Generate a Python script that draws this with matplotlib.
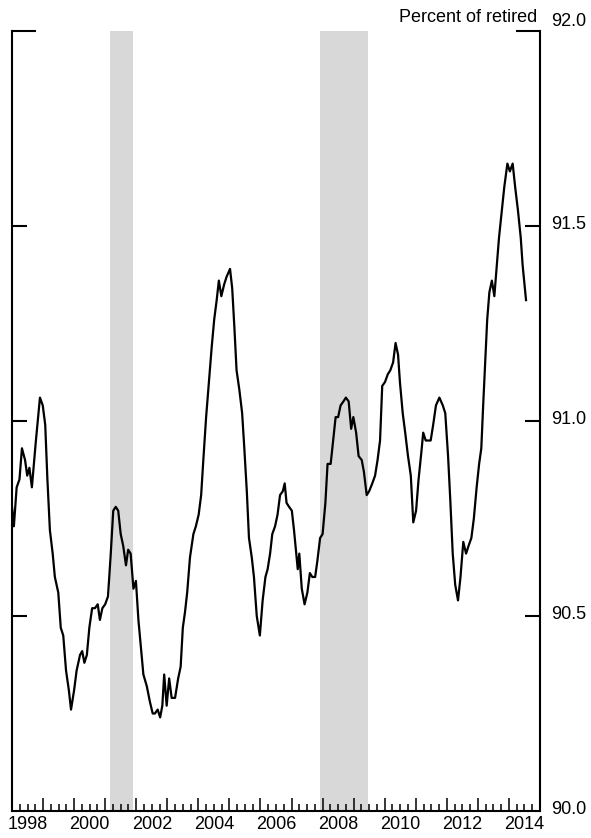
import matplotlib
matplotlib.use("Agg")
import matplotlib.pyplot as plt
from matplotlib.ticker import MultipleLocator
import numpy as np

plt.rcParams['font.family'] = ['Liberation Sans', 'DejaVu Sans']

# decimal year, percent of retired
years = [
    1998.00, 1998.06, 1998.15, 1998.24, 1998.32, 1998.42, 1998.49, 1998.56, 1998.64, 1998.77,
    1998.90, 1998.99, 1999.07, 1999.14, 1999.22, 1999.31, 1999.38, 1999.49, 1999.57, 1999.65,
    1999.74, 1999.83, 1999.90, 2000.00, 2000.08, 2000.19, 2000.26, 2000.33, 2000.41, 2000.49,
    2000.58, 2000.67, 2000.76, 2000.83, 2000.91, 2001.00, 2001.09, 2001.18, 2001.26, 2001.34,
    2001.42, 2001.50, 2001.58, 2001.67, 2001.74, 2001.82, 2001.91, 2001.99, 2002.07, 2002.15,
    2002.23, 2002.34, 2002.44, 2002.53, 2002.60, 2002.69, 2002.77, 2002.84, 2002.90, 2002.98,
    2003.06, 2003.14, 2003.25, 2003.35, 2003.43, 2003.50, 2003.57, 2003.64, 2003.73, 2003.84,
    2003.92, 2004.01, 2004.09, 2004.16, 2004.25, 2004.33, 2004.43, 2004.51, 2004.59, 2004.66,
    2004.74, 2004.83, 2004.91, 2005.02, 2005.09, 2005.16, 2005.23, 2005.32, 2005.41, 2005.48,
    2005.56, 2005.63, 2005.72, 2005.79, 2005.88, 2005.98, 2006.07, 2006.16, 2006.23, 2006.31,
    2006.38, 2006.47, 2006.55, 2006.63, 2006.72, 2006.78, 2006.84, 2006.92, 2007.01, 2007.08,
    2007.14, 2007.20, 2007.25, 2007.33, 2007.42, 2007.51, 2007.59, 2007.67, 2007.76, 2007.83,
    2007.92, 2008.00, 2008.09, 2008.16, 2008.26, 2008.34, 2008.42, 2008.50, 2008.58, 2008.67,
    2008.75, 2008.84, 2008.92, 2008.99, 2009.08, 2009.16, 2009.26, 2009.33, 2009.42, 2009.50,
    2009.60, 2009.69, 2009.77, 2009.85, 2009.92, 2010.01, 2010.10, 2010.18, 2010.27, 2010.35,
    2010.43, 2010.49, 2010.58, 2010.66, 2010.75, 2010.84, 2010.92, 2011.01, 2011.09, 2011.18,
    2011.24, 2011.32, 2011.39, 2011.48, 2011.56, 2011.65, 2011.76, 2011.87, 2011.95, 2012.04,
    2012.11, 2012.19, 2012.27, 2012.36, 2012.44, 2012.53, 2012.62, 2012.70, 2012.79, 2012.87,
    2012.96, 2013.04, 2013.11, 2013.17, 2013.24, 2013.30, 2013.37, 2013.45, 2013.53, 2013.61,
    2013.68, 2013.77, 2013.85, 2013.95, 2014.03, 2014.12, 2014.20, 2014.29, 2014.38, 2014.44,
    2014.55,
]
pct_retired = [
    90.78, 90.73, 90.83, 90.85, 90.93, 90.90, 90.86, 90.88, 90.83, 90.95,
    91.06, 91.04, 90.99, 90.85, 90.72, 90.66, 90.60, 90.56, 90.47, 90.45,
    90.36, 90.31, 90.26, 90.31, 90.36, 90.40, 90.41, 90.38, 90.40, 90.47,
    90.52, 90.52, 90.53, 90.49, 90.52, 90.53, 90.55, 90.66, 90.77, 90.78,
    90.77, 90.71, 90.68, 90.63, 90.67, 90.66, 90.57, 90.59, 90.49, 90.42,
    90.35, 90.32, 90.28, 90.25, 90.25, 90.26, 90.24, 90.27, 90.35, 90.27,
    90.34, 90.29, 90.29, 90.34, 90.37, 90.47, 90.51, 90.56, 90.65, 90.71,
    90.73, 90.76, 90.81, 90.90, 91.01, 91.09, 91.19, 91.26, 91.31, 91.36,
    91.32, 91.35, 91.37, 91.39, 91.34, 91.24, 91.13, 91.08, 91.02, 90.93,
    90.82, 90.70, 90.65, 90.60, 90.50, 90.45, 90.54, 90.60, 90.62, 90.66,
    90.71, 90.73, 90.76, 90.81, 90.82, 90.84, 90.79, 90.78, 90.77, 90.72,
    90.67, 90.62, 90.66, 90.57, 90.53, 90.56, 90.61, 90.60, 90.60, 90.64,
    90.70, 90.71, 90.79, 90.89, 90.89, 90.95, 91.01, 91.01, 91.04, 91.05,
    91.06, 91.05, 90.98, 91.01, 90.97, 90.91, 90.90, 90.87, 90.81, 90.82,
    90.84, 90.86, 90.90, 90.95, 91.09, 91.10, 91.12, 91.13, 91.15, 91.20,
    91.17, 91.10, 91.02, 90.97, 90.91, 90.86, 90.74, 90.77, 90.85, 90.92,
    90.97, 90.95, 90.95, 90.95, 90.99, 91.04, 91.06, 91.04, 91.02, 90.91,
    90.80, 90.66, 90.58, 90.54, 90.60, 90.69, 90.66, 90.68, 90.70, 90.75,
    90.83, 90.89, 90.93, 91.04, 91.16, 91.26, 91.33, 91.36, 91.32, 91.40,
    91.47, 91.54, 91.60, 91.66, 91.64, 91.66, 91.60, 91.54, 91.47, 91.40,
    91.31,
]

# NBER recessions
rec_start = [2001.17, 2007.92]
rec_end = [2001.88, 2009.46]

ytick_vals = [90.0, 90.5, 91.0, 91.5, 92.0]
year_labels = list(range(1998, 2015, 2))


def main():
    fig = plt.figure(figsize=(5.91, 8.38), dpi=100)
    ax = fig.add_axes([12 / 591, 1 - 811 / 838, 528 / 591, 780 / 838])

    for s, e in zip(rec_start, rec_end):
        ax.axvspan(s, e, color='#d8d8d8', lw=0, zorder=0)

    ax.plot(years, pct_retired, color='black', lw=1.6, zorder=3)

    ax.set_xlim(1998, 2015)
    ax.set_ylim(90.0, 92.0)

    ax.spines['top'].set_visible(False)
    for side in ['left', 'right', 'bottom']:
        ax.spines[side].set_linewidth(1.5)

    # x axis: tall ticks at each year, short ones at quarters
    ax.xaxis.set_major_locator(MultipleLocator(1))
    ax.xaxis.set_minor_locator(MultipleLocator(0.25))
    ax.tick_params(axis='x', which='major', direction='in', length=9.5, width=1.1, labelbottom=False)
    ax.tick_params(axis='x', which='minor', direction='in', length=5, width=1.1)
    for yr in year_labels:
        ax.text(yr + 0.5, -0.006, str(yr), transform=ax.get_xaxis_transform(),
                ha='center', va='top', fontsize=13)

    # y axis: inward ticks on both sides, labels on the right
    ax.set_yticks(ytick_vals[1:-1])
    ax.tick_params(axis='y', direction='in', length=11, width=1.5,
                   left=True, right=True, labelleft=False, labelright=False)
    for v in ytick_vals:
        dy = 7 if v == 92.0 else 1
        ax.annotate(f"{v:.1f}", xy=(1, v), xycoords=ax.get_yaxis_transform(),
                    xytext=(8, dy), textcoords='offset points',
                    ha='left', va='center', fontsize=13)

    # top corner ticks
    ax.plot([0, 24 / 528], [1, 1], transform=ax.transAxes, color='black',
            lw=1.5, clip_on=False, solid_capstyle='butt')
    ax.plot([1 - 24 / 528, 1], [1, 1], transform=ax.transAxes, color='black',
            lw=1.5, clip_on=False, solid_capstyle='butt')

    fig.text(537 / 591, 1 - 17 / 838, "Percent of retired", ha='right', va='center', fontsize=13)

    fig.savefig("out.png", dpi=100)


if __name__ == '__main__':
    main()
